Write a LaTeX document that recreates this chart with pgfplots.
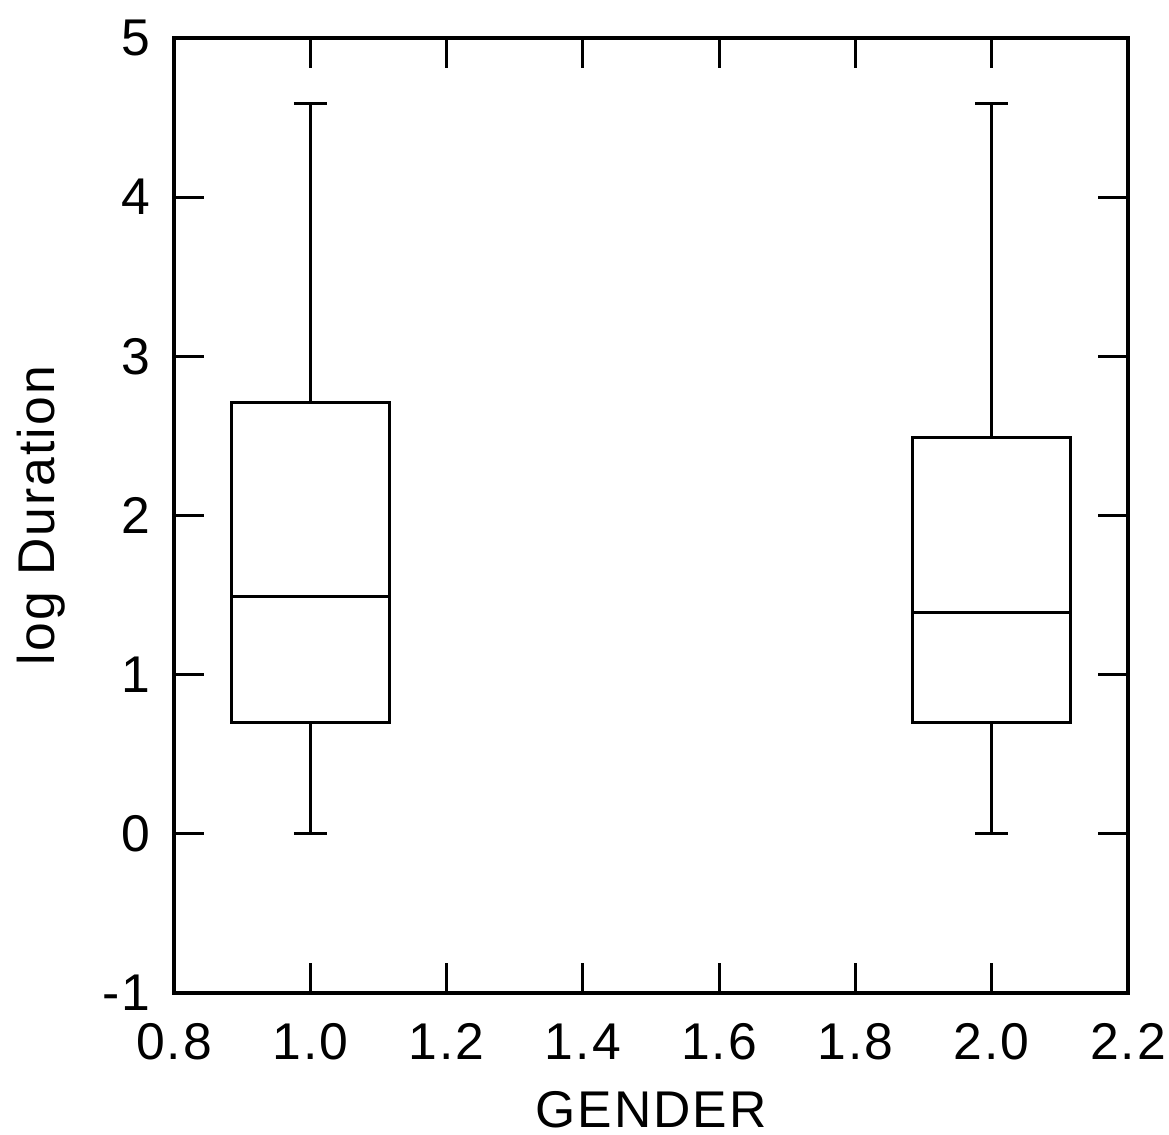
\documentclass[border=0pt]{standalone}
\usepackage{pgfplots}
\pgfplotsset{compat=1.18}
\usepgfplotslibrary{statistics}
\usepackage{fontspec}
\setmainfont{Liberation Sans}[LetterSpace=4]
\begin{document}
\begin{tikzpicture}
\begin{axis}[
 scale only axis, width=9.54cm, height=9.55cm,
 xmin=0.8, xmax=2.2, ymin=-1, ymax=5,
 xtick={0.8,1.0,1.2,1.4,1.6,1.8,2.0,2.2},
 ytick={-1,0,1,2,3,4,5},
 tick align=inside, major tick length=0.3cm,
 every tick/.style={black, line width=0.9pt},
 axis line style={line width=0.9pt},
 x tick label style={/pgf/number format/.cd, fixed, fixed zerofill, precision=1, /tikz/.cd, inner sep=0pt, yshift=-0.30cm},
 y tick label style={inner sep=0pt, xshift=-0.23cm},
 /pgf/number format/assume math mode=true,
 ticklabel style={font=\fontsize{14.7}{17}\selectfont},
 label style={font=\fontsize{14.7}{17}\selectfont, inner sep=0pt},
 xlabel={GENDER}, ylabel={log Duration},
 xlabel style={at={(axis description cs:0.5,0)}, yshift=-1.17cm, anchor=center},
 ylabel style={at={(axis description cs:-0.1394,0.5)}, anchor=center, rotate=0},
 boxplot/draw direction=y,
]
\addplot+[black, line width=0.9pt, solid, mark=none,
 boxplot prepared={draw position=1, lower whisker=0, lower quartile=0.70, median=1.49,
 upper quartile=2.71, upper whisker=4.59, box extend=0.232, whisker extend=0.048}] coordinates {};
\addplot+[black, line width=0.9pt, solid, mark=none,
 boxplot prepared={draw position=2, lower whisker=0, lower quartile=0.70, median=1.39,
 upper quartile=2.49, upper whisker=4.59, box extend=0.232, whisker extend=0.048}] coordinates {};
\end{axis}
\path (current axis.south west) ++(-1.74cm,-1.42cm) rectangle ++(11.69cm,11.35cm);
\end{tikzpicture}
\end{document}
